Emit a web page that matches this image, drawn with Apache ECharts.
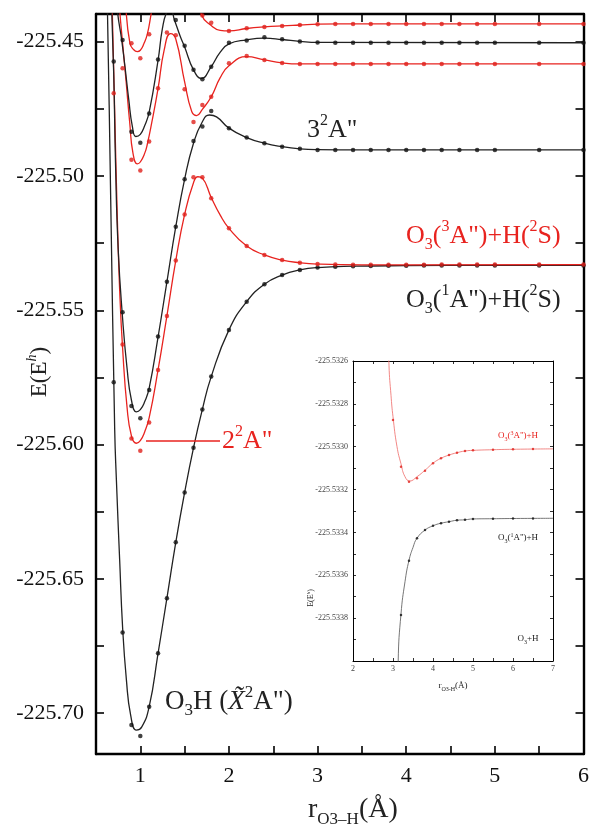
<!DOCTYPE html>
<html>
<head>
<meta charset="utf-8">
<script src="https://cdn.jsdelivr.net/npm/echarts@6/dist/echarts.min.js"></script>
<style>
  html, body { margin: 0; padding: 0; background: #fff; }
  #chart { width: 592px; height: 831px; }
</style>
</head>
<body>
<div id="chart"></div>
<script>
// ---- axes ----
var xTickValues = [0.5, 1, 1.5, 2, 2.5, 3, 3.5, 4, 4.5, 5, 5.5, 6];
var xLabelValues = [1, 2, 3, 4, 5, 6];
var yTickValues = [-225.700, -225.675, -225.650, -225.625, -225.600, -225.575, -225.550, -225.525, -225.500, -225.475, -225.450];
var yLabelValues = [-225.70, -225.65, -225.60, -225.55, -225.50, -225.45];
var insetXTickValues = [2, 2.5, 3, 3.5, 4, 4.5, 5, 5.5, 6, 6.5, 7];
var insetXLabelValues = [2, 3, 4, 5, 6, 7];
var insetYTickValues = [-225.5340, -225.5339, -225.5338, -225.5337, -225.5336, -225.5335, -225.5334, -225.5333, -225.5332, -225.5331, -225.5330, -225.5329, -225.5328, -225.5327, -225.5326];
var insetYLabelValues = [-225.5338, -225.5336, -225.5334, -225.5332, -225.5330, -225.5328, -225.5326];

// ---- ab initio points (main panel), r in angstrom ----
var rDots = [0.7, 0.8, 0.9, 1.0, 1.1, 1.2, 1.3, 1.4, 1.5, 1.6, 1.7, 1.8, 2.0, 2.2, 2.4, 2.6, 2.8, 3.0, 3.2, 3.4, 3.6, 3.8, 4.0, 4.2, 4.4, 4.6, 4.8, 5.0, 5.5, 6.0];
// ground state O3H (X 2A")
var groundDots = [-225.5768, -225.6700, -225.7044, -225.7085, -225.6976, -225.6777, -225.6572, -225.6364, -225.6178, -225.6012, -225.5869, -225.5747, -225.5573, -225.5468, -225.5403, -225.5369, -225.5350, -225.5341, -225.5338, -225.5336, -225.5335, -225.5334, -225.5334, -225.5333, -225.5333, -225.5333, -225.5333, -225.5333, -225.5333, -225.5333];
// 2 2A"
var state2Dots = [null, -225.5627, -225.5977, -225.6023, -225.5918, -225.5722, -225.5521, -225.5315, -225.5143, -225.5005, -225.5005, -225.5083, -225.5195, -225.5261, -225.5294, -225.5313, -225.5323, -225.5328, -225.5330, -225.5331, -225.5331, -225.5331, -225.5331, -225.5331, -225.5330, -225.5330, -225.5330, -225.5330, -225.5330, -225.5330];
// 3 2A"
var state3Dots = [null, -225.5507, -225.5856, -225.5902, -225.5797, -225.5598, -225.5394, -225.5189, -225.5012, -225.4870, -225.4816, -225.4758, -225.4822, -225.4857, -225.4878, -225.4891, -225.4899, -225.4903, -225.4903, -225.4903, -225.4903, -225.4903, -225.4903, -225.4903, -225.4903, -225.4903, -225.4903, -225.4903, -225.4903, -225.4903];
// upper red (third from top)
var state4Dots = [-225.4692, -225.4599, -225.4940, -225.4980, -225.4872, -225.4673, -225.4466, -225.4476, -225.4677, -225.4799, -225.4736, -225.4705, -225.4580, -225.4553, -225.4568, -225.4579, -225.4583, -225.4583, -225.4583, -225.4583, -225.4583, -225.4583, -225.4583, -225.4583, -225.4583, -225.4583, -225.4583, -225.4583, -225.4583, -225.4583];
// upper black
var state5Dots = [-225.4574, -225.4494, -225.4835, -225.4876, -225.4767, -225.4566, null, -225.4419, -225.4515, -225.4605, -225.4640, -225.4593, -225.4504, -225.4496, -225.4484, -225.4491, -225.4499, -225.4503, -225.4504, -225.4504, -225.4504, -225.4504, -225.4504, -225.4504, -225.4504, -225.4504, -225.4504, -225.4504, -225.4504, -225.4504];
// top red
var state6Dots = [null, null, -225.4506, -225.4562, -225.4472, null, null, null, null, null, -225.4403, -225.4430, -225.4460, -225.4450, -225.4445, -225.4442, -225.4438, -225.4435, -225.4434, -225.4434, -225.4434, -225.4434, -225.4434, -225.4434, -225.4434, -225.4434, -225.4434, -225.4434, -225.4434, -225.4434];

// ---- fitted curves (main panel) [r, E] ----
var groundLine = [[0.60, -225.40], [0.629, -225.4382], [0.666, -225.5089], [0.711, -225.5945], [0.730, -225.6131], [0.767, -225.6430], [0.80, -225.6680], [0.843, -225.6876], [0.891, -225.7007], [0.955, -225.7063], [1.015, -225.7052], [1.1, -225.6976], [1.2, -225.6777], [1.3, -225.6572], [1.4, -225.6364], [1.5, -225.6178], [1.6, -225.6012], [1.7, -225.5869], [1.8, -225.5747], [2.0, -225.5573], [2.2, -225.5468], [2.4, -225.5403], [2.6, -225.5369], [2.8, -225.5350], [3.0, -225.5341], [3.4, -225.5336], [4.0, -225.5334], [5.0, -225.5333], [6.0, -225.5333]];
var state2Line = [[0.67, -225.42], [0.71, -225.475], [0.74, -225.515], [0.77, -225.545], [0.80, -225.564], [0.85, -225.586], [0.90, -225.5968], [0.955, -225.5995], [1.0, -225.5985], [1.05, -225.5952], [1.1, -225.5900], [1.2, -225.5722], [1.3, -225.5521], [1.4, -225.5315], [1.5, -225.5143], [1.6, -225.5025], [1.65, -225.5003], [1.7, -225.5008], [1.8, -225.5080], [1.9, -225.5145], [2.0, -225.5195], [2.2, -225.5261], [2.4, -225.5294], [2.6, -225.5313], [2.8, -225.5323], [3.0, -225.5328], [3.5, -225.5331], [4.0, -225.5331], [6.0, -225.5330]];
var state3Line = [[0.66, -225.42], [0.70, -225.462], [0.72, -225.495], [0.75, -225.527], [0.80, -225.553], [0.85, -225.5715], [0.90, -225.5835], [0.955, -225.5878], [1.0, -225.5870], [1.05, -225.5840], [1.1, -225.5790], [1.2, -225.5600], [1.3, -225.5394], [1.4, -225.5189], [1.5, -225.5012], [1.6, -225.4878], [1.7, -225.4798], [1.78, -225.4773], [1.86, -225.4780], [2.0, -225.4822], [2.2, -225.4857], [2.4, -225.4878], [2.6, -225.4891], [2.8, -225.4899], [3.0, -225.4902], [3.5, -225.4903], [6.0, -225.4903]];
var state4Line = [[0.74, -225.425], [0.767, -225.4382], [0.80, -225.4505], [0.84, -225.465], [0.88, -225.480], [0.917, -225.4915], [0.966, -225.4955], [1.0, -225.4948], [1.05, -225.4915], [1.08, -225.4880], [1.13, -225.4800], [1.2, -225.4675], [1.27, -225.4530], [1.34, -225.4470], [1.40, -225.4490], [1.5, -225.4650], [1.58, -225.4760], [1.635, -225.4775], [1.7, -225.4752], [1.8, -225.4705], [1.9, -225.4635], [2.0, -225.4590], [2.2, -225.4556], [2.4, -225.4568], [2.6, -225.4579], [2.8, -225.4583], [6.0, -225.4583]];
var state5Line = [[0.72, -225.425], [0.742, -225.4385], [0.79, -225.4494], [0.83, -225.4602], [0.87, -225.4717], [0.91, -225.4815], [0.95, -225.4853], [1.0, -225.4845], [1.05, -225.4812], [1.1, -225.4762], [1.2, -225.4570], [1.25, -225.4450], [1.30, -225.4388], [1.34, -225.4380], [1.385, -225.4419], [1.45, -225.4480], [1.5, -225.4520], [1.6, -225.4605], [1.69, -225.4637], [1.8, -225.4593], [1.9, -225.4540], [2.0, -225.4508], [2.2, -225.4493], [2.4, -225.4487], [2.6, -225.4492], [2.8, -225.4499], [3.0, -225.4503], [6.0, -225.4504]];
var state6Line = [[0.82, -225.42], [0.84, -225.4385], [0.883, -225.4506], [0.92, -225.4528], [0.966, -225.4537], [1.0, -225.4532], [1.04, -225.4508], [1.079, -225.4472], [1.12, -225.4400], [1.16, -225.432], [1.45, -225.415], [1.62, -225.428], [1.69, -225.4400], [1.8, -225.4440], [1.9, -225.4458], [2.0, -225.4460], [2.2, -225.4451], [2.4, -225.4445], [2.6, -225.4441], [2.8, -225.4438], [3.0, -225.4435], [3.5, -225.4434], [6.0, -225.4434]];

// ---- inset ----
var insetR = [3.0, 3.2, 3.4, 3.6, 3.8, 4.0, 4.2, 4.4, 4.6, 4.8, 5.0, 5.5, 6.0, 6.5];
var insetRedDots = [-225.532875, -225.533093, -225.533163, -225.533147, -225.533112, -225.533077, -225.533054, -225.533039, -225.533028, -225.533020, -225.533017, -225.533014, -225.533012, -225.533011];
var insetBlackDots = [null, -225.533785, -225.533532, -225.533427, -225.533389, -225.533369, -225.533357, -225.533350, -225.533343, -225.533341, -225.533337, -225.533336, -225.533335, -225.533335];
var insetRedLine = [[2.85, -225.5322], [2.9, -225.53262], [2.95, -225.53276], [3.0, -225.53286], [3.1, -225.53300], [3.2, -225.53308], [3.3, -225.53314], [3.42, -225.53316], [3.6, -225.53314], [3.8, -225.53311], [4.0, -225.533077], [4.2, -225.533054], [4.4, -225.533039], [4.6, -225.533028], [4.8, -225.53302], [5.0, -225.533017], [5.5, -225.533014], [6.0, -225.533012], [7.0, -225.53301]];
var insetBlackLine = [[3.10, -225.5345], [3.13, -225.5340], [3.2, -225.53378], [3.3, -225.53363], [3.4, -225.53353], [3.5, -225.53347], [3.6, -225.533427], [3.8, -225.533389], [4.0, -225.533369], [4.2, -225.533357], [4.4, -225.53335], [4.6, -225.533343], [4.8, -225.533341], [5.0, -225.533337], [5.5, -225.533336], [6.0, -225.533335], [7.0, -225.533334]];

var SERIF = '"Liberation Serif", "DejaVu Serif", serif';
var RED = '#e8231f';
var BLACK = '#222';

function pairs(xs, ys) {
  var out = [];
  for (var i = 0; i < xs.length; i++) {
    if (ys[i] !== null) out.push([xs[i], ys[i]]);
  }
  return out;
}

function curve(line, dots, color, axis, inset) {
  return [
    {
      type: 'line', xAxisIndex: axis, yAxisIndex: axis, data: line,
      showSymbol: false, smooth: 0.5, clip: true,
      lineStyle: { color: inset ? (color === RED ? '#f07a78' : '#666') : color, width: inset ? 0.9 : 1.3 },
      z: 2
    },
    {
      type: 'scatter', xAxisIndex: axis, yAxisIndex: axis, data: dots,
      symbolSize: inset ? 2.5 : 4.5, clip: true,
      itemStyle: { color: color === RED ? '#e0201c' : '#111' },
      z: 3
    }
  ];
}

function xAx(grid, pos, min, max, ticks, labels, big) {
  return {
    type: 'value', gridIndex: grid, position: pos, min: min, max: max,
    axisLine: { show: true, onZero: false, lineStyle: { color: '#000', width: big ? 2.4 : 1 } },
    axisTick: { show: true, inside: true, length: big ? 8 : 3, customValues: ticks, lineStyle: { color: '#000', width: big ? 1.6 : 0.8 } },
    axisLabel: labels ? {
      show: true, customValues: labels, margin: big ? 11 : 4,
      fontFamily: SERIF, fontSize: big ? 22 : 8, color: big ? '#111' : '#444'
    } : { show: false },
    splitLine: { show: false }
  };
}

function yAx(grid, pos, min, max, ticks, labels, big, digits) {
  var a = xAx(grid, pos, min, max, ticks, labels, big);
  if (labels) {
    a.axisLabel.formatter = function (v) { return v.toFixed(digits); };
    a.axisLabel.margin = big ? 12 : 5;
  }
  return a;
}

function richSet(size, color) {
  var s = Math.round(size * 0.62);
  return {
    sup: { fontSize: s, lineHeight: s, verticalAlign: 'top', fontFamily: SERIF, fill: color },
    sub: { fontSize: s, lineHeight: s, verticalAlign: 'bottom', fontFamily: SERIF, fill: color },
    it: { fontSize: size, lineHeight: Math.round(size * 1.3), fontStyle: 'italic', fontFamily: SERIF, fill: color },
    supi: { fontSize: s, lineHeight: s, verticalAlign: 'top', fontStyle: 'italic', fontFamily: SERIF, fill: color }
  };
}

function label(text, x, y, size, color, align, rotation) {
  return {
    type: 'text', x: x, y: y, rotation: rotation || 0, z: 50,
    style: {
      text: text, fontFamily: SERIF, fontSize: size, fill: color,
      lineHeight: Math.round(size * 1.3), align: align || 'left', verticalAlign: 'middle',
      rich: richSet(size, color)
    }
  };
}

var series = []
  .concat(curve(groundLine, pairs(rDots, groundDots), BLACK, 0))
  .concat(curve(state2Line, pairs(rDots, state2Dots), RED, 0))
  .concat(curve(state3Line, pairs(rDots, state3Dots), BLACK, 0))
  .concat(curve(state4Line, pairs(rDots, state4Dots), RED, 0))
  .concat(curve(state5Line, pairs(rDots, state5Dots), BLACK, 0))
  .concat(curve(state6Line, pairs(rDots, state6Dots), RED, 0))
  .concat(curve(insetRedLine, pairs(insetR, insetRedDots), RED, 2, true))
  .concat(curve(insetBlackLine, pairs(insetR, insetBlackDots), BLACK, 2, true));

var chart = echarts.init(document.getElementById('chart'), null, { renderer: 'canvas' });
chart.setOption({
  animation: false,
  backgroundColor: '#fff',
  grid: [
    { left: 96, right: 6, top: 14, bottom: 77 },
    { left: 353, top: 361, width: 200, height: 300 }
  ],
  xAxis: [
    xAx(0, 'bottom', 0.5, 6, xTickValues, xLabelValues, true),
    xAx(0, 'top', 0.5, 6, xTickValues, null, true),
    xAx(1, 'bottom', 2, 7, insetXTickValues, insetXLabelValues, false),
    xAx(1, 'top', 2, 7, insetXTickValues, null, false)
  ],
  yAxis: [
    yAx(0, 'left', -225.7152, -225.4397, yTickValues, yLabelValues, true, 2),
    yAx(0, 'right', -225.7152, -225.4397, yTickValues, null, true, 2),
    yAx(1, 'left', -225.5340, -225.5326, insetYTickValues, insetYLabelValues, false, 4),
    yAx(1, 'right', -225.5340, -225.5326, insetYTickValues, null, false, 4)
  ],
  series: series,
  graphic: [
    label('3{sup|2}A"', 307, 130, 26, BLACK),
    label('O{sub|3}({sup|3}A")+H({sup|2}S)', 406, 236, 26, RED),
    label('O{sub|3}({sup|1}A")+H({sup|2}S)', 406, 300, 26, BLACK),
    { type: 'line', z: 50, shape: { x1: 146, y1: 441, x2: 220, y2: 441 }, style: { stroke: RED, lineWidth: 1.5 } },
    label('2{sup|2}A"', 222, 441, 26, RED),
    label('O{sub|3}H ({it|X\u0303}{sup|2}A")', 165, 702, 27, BLACK),
    label('E(E{supi|h})', 40, 372, 23, BLACK, 'center', Math.PI / 2),
    label('r{sub|O}{sub|3}{sub|\u2013H}(\u00c5)', 308, 810, 28, BLACK),
    label('O{sub|3}({sup|3}A")+H', 518, 436, 9, RED, 'center'),
    label('O{sub|3}({sup|1}A")+H', 518, 538, 9, BLACK, 'center'),
    label('O{sub|3}+H', 528, 639, 9, BLACK, 'center'),
    label('E(E{supi|h})', 311, 598, 8, BLACK, 'center', Math.PI / 2),
    label('r{sub|O}{sub|3}{sub|-H}(\u00c5)', 453, 686, 9, BLACK, 'center')
  ]
});
</script>
</body>
</html>
